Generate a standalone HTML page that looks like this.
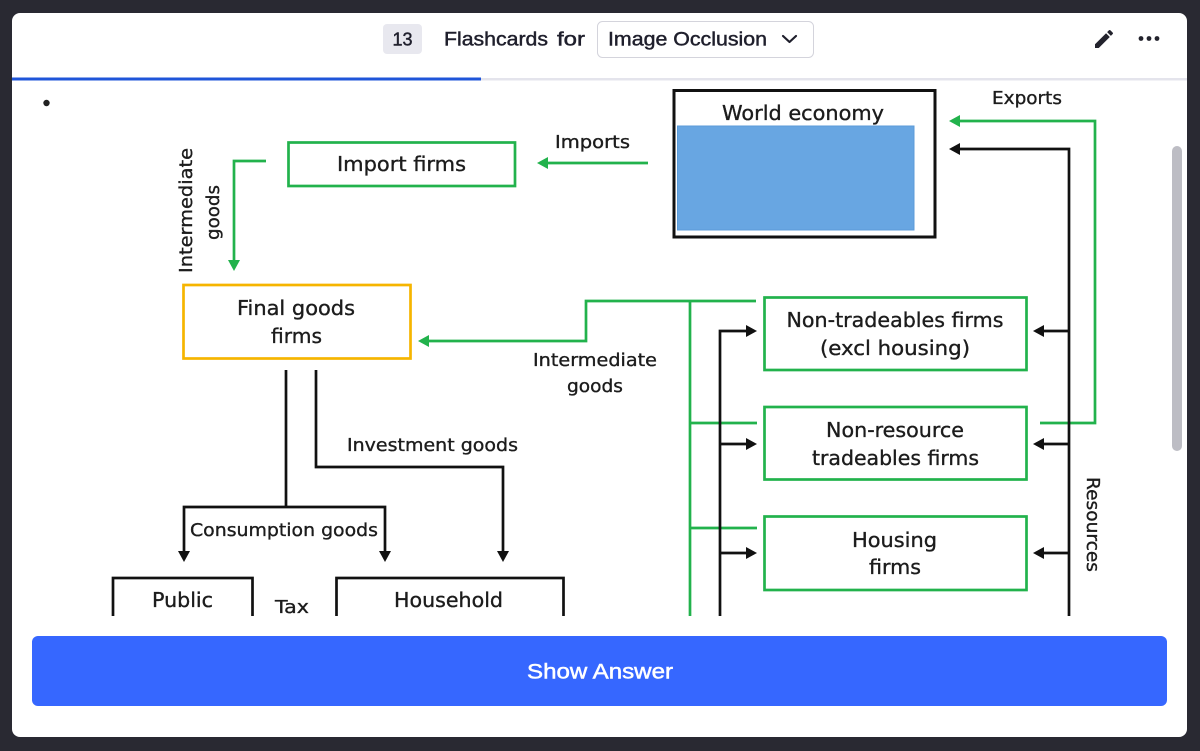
<!DOCTYPE html>
<html><head><meta charset="utf-8"><style>
html,body{margin:0;padding:0;background:#292932;width:1200px;height:751px;overflow:hidden}
svg{display:block}
</style></head><body>
<svg width="1200" height="751" viewBox="0 0 1200 751" xmlns="http://www.w3.org/2000/svg">
<defs>
<clipPath id="content"><rect x="12" y="81" width="1175" height="535"/></clipPath>
</defs>
<rect x="0" y="0" width="1200" height="751" fill="#292932"/>
<rect x="12" y="13" width="1175" height="724" rx="8" fill="#ffffff"/>

<!-- header -->
<rect x="383" y="24" width="39" height="30" rx="4" fill="#e8e8ef"/>
<g font-family="Liberation Sans, sans-serif" fill="#1f1f2c" stroke="#1f1f2c" stroke-width="0.45">
<text x="402.5" y="45.5" font-size="18" text-anchor="middle">13</text>
<text x="444" y="45.5" font-size="19" textLength="104" lengthAdjust="spacingAndGlyphs">Flashcards</text>
<text x="557" y="45.5" font-size="19" textLength="28" lengthAdjust="spacingAndGlyphs">for</text>
</g>
<rect x="597.5" y="21.5" width="216" height="36" rx="5" fill="#fff" stroke="#d4d4dc" stroke-width="1"/>
<text x="608" y="45.5" font-family="Liberation Sans, sans-serif" font-size="19" fill="#1f1f2c" stroke="#1f1f2c" stroke-width="0.45" textLength="159" lengthAdjust="spacingAndGlyphs">Image Occlusion</text>
<polyline points="783,36 789.5,42 796,36" fill="none" stroke="#1f1f2c" stroke-width="2.2" stroke-linecap="round" stroke-linejoin="round"/>
<g transform="translate(1092,27)" fill="#23232d"><path d="M3 17.25V21h3.75L17.81 9.94l-3.75-3.75L3 17.25zM20.71 7.04c.39-.39.39-1.02 0-1.41l-2.34-2.34c-.39-.39-1.02-.39-1.41 0l-1.83 1.83 3.75 3.75 1.83-1.83z"/></g>
<circle cx="1141" cy="38.5" r="2.4" fill="#23232d"/>
<circle cx="1149" cy="38.5" r="2.4" fill="#23232d"/>
<circle cx="1157" cy="38.5" r="2.4" fill="#23232d"/>

<!-- progress -->
<rect x="12" y="78" width="1175" height="2.5" fill="#e4e4ec"/>
<rect x="12" y="77.5" width="469" height="3" fill="#1f55d9"/>

<!-- bullet -->
<circle cx="46.5" cy="103" r="3.2" fill="#222"/>

<!-- diagram -->
<g clip-path="url(#content)" font-family="DejaVu Sans, Liberation Sans, sans-serif" fill="#1c1c1c">
  <!-- World economy -->
  <rect x="674" y="90.5" width="261" height="146.5" fill="#fff" stroke="#111" stroke-width="3"/>
  <rect x="677.5" y="126" width="236.5" height="104" fill="#68a6e2" stroke="#5b9bd8" stroke-width="1"/>

  <!-- green connectors -->
  <g fill="none" stroke="#22b24c" stroke-width="2.7">
    <polyline points="1040,423 1095,423 1095,121 958,121"/>
    <line x1="648" y1="163" x2="546" y2="163"/>
    <polyline points="266,161 234,161 234,262"/>
    <polyline points="756,301 586,301 586,341 427,341"/>
    <line x1="690" y1="301" x2="690" y2="620"/>
    <line x1="690" y1="423" x2="757" y2="423"/>
    <line x1="690" y1="528" x2="757" y2="528"/>
    <rect x="288.5" y="142.5" width="226.5" height="43.5"/>
    <rect x="764.5" y="297.5" width="262" height="72.5"/>
    <rect x="764.5" y="407" width="262" height="72.5"/>
    <rect x="764.5" y="516.5" width="262" height="73.5"/>
  </g>
  <g fill="#22b24c">
    <polygon points="949,121 960,115 960,127"/>
    <polygon points="537,163 548,157 548,169"/>
    <polygon points="234,271 228,260 240,260"/>
    <polygon points="418,341 429,335 429,347"/>
  </g>

  <!-- orange box -->
  <rect x="183.5" y="285" width="227" height="73.5" fill="none" stroke="#f6b500" stroke-width="2.7"/>

  <!-- black connectors -->
  <g fill="none" stroke="#111" stroke-width="2.7">
    <polyline points="1069,620 1069,149 958,149"/>
    <line x1="1069" y1="331" x2="1042" y2="331"/>
    <line x1="1069" y1="444" x2="1042" y2="444"/>
    <line x1="1069" y1="553" x2="1042" y2="553"/>
    <polyline points="720,620 720,331 748,331"/>
    <line x1="720" y1="444" x2="748" y2="444"/>
    <line x1="720" y1="553" x2="748" y2="553"/>
    <line x1="286" y1="370" x2="286" y2="507"/>
    <polyline points="184,553 184,507 385,507 385,553"/>
    <polyline points="316,370 316,467 503,467 503,553"/>
    <rect x="113" y="578" width="139.5" height="90"/>
    <rect x="336.5" y="578" width="227" height="90"/>
  </g>
  <g fill="#111">
    <polygon points="949,149 960,143 960,155"/>
    <polygon points="1033,331 1044,325 1044,337"/>
    <polygon points="1033,444 1044,438 1044,450"/>
    <polygon points="1033,553 1044,547 1044,559"/>
    <polygon points="757,331 746,325 746,337"/>
    <polygon points="757,444 746,438 746,450"/>
    <polygon points="757,553 746,547 746,559"/>
    <polygon points="184,562 178,551 190,551"/>
    <polygon points="385,562 379,551 391,551"/>
    <polygon points="503,562 497,551 509,551"/>
  </g>

  <!-- labels -->
  <g stroke="#1c1c1c" stroke-width="0.35">
  <text x="803" y="120" font-size="20" text-anchor="middle" textLength="162" lengthAdjust="spacingAndGlyphs">World economy</text>
  <text x="1027" y="104" font-size="18" text-anchor="middle" textLength="70" lengthAdjust="spacingAndGlyphs">Exports</text>
  <text x="592.5" y="148" font-size="18" text-anchor="middle" textLength="75" lengthAdjust="spacingAndGlyphs">Imports</text>
  <text x="401.5" y="171" font-size="20" text-anchor="middle" textLength="129" lengthAdjust="spacingAndGlyphs">Import firms</text>
  <text x="296" y="315" font-size="20" text-anchor="middle" textLength="118" lengthAdjust="spacingAndGlyphs">Final goods</text>
  <text x="296.5" y="343" font-size="20" text-anchor="middle" textLength="51" lengthAdjust="spacingAndGlyphs">firms</text>
  <text x="595" y="366" font-size="18" text-anchor="middle" textLength="124" lengthAdjust="spacingAndGlyphs">Intermediate</text>
  <text x="595" y="392" font-size="18" text-anchor="middle" textLength="56" lengthAdjust="spacingAndGlyphs">goods</text>
  <text x="895" y="327" font-size="20" text-anchor="middle" textLength="217" lengthAdjust="spacingAndGlyphs">Non-tradeables firms</text>
  <text x="895" y="355" font-size="20" text-anchor="middle" textLength="150" lengthAdjust="spacingAndGlyphs">(excl housing)</text>
  <text x="895" y="437" font-size="20" text-anchor="middle" textLength="138" lengthAdjust="spacingAndGlyphs">Non-resource</text>
  <text x="895.5" y="465" font-size="20" text-anchor="middle" textLength="167" lengthAdjust="spacingAndGlyphs">tradeables firms</text>
  <text x="894.5" y="547" font-size="20" text-anchor="middle" textLength="85" lengthAdjust="spacingAndGlyphs">Housing</text>
  <text x="895" y="574" font-size="20" text-anchor="middle" textLength="52" lengthAdjust="spacingAndGlyphs">firms</text>
  <text x="432.5" y="451" font-size="18" text-anchor="middle" textLength="171" lengthAdjust="spacingAndGlyphs">Investment goods</text>
  <text x="284" y="536" font-size="18" text-anchor="middle" textLength="188" lengthAdjust="spacingAndGlyphs">Consumption goods</text>
  <text x="182.5" y="607" font-size="20" text-anchor="middle" textLength="61" lengthAdjust="spacingAndGlyphs">Public</text>
  <text x="292" y="613" font-size="18" text-anchor="middle" textLength="34" lengthAdjust="spacingAndGlyphs">Tax</text>
  <text x="448.5" y="607" font-size="20" text-anchor="middle" textLength="109" lengthAdjust="spacingAndGlyphs">Household</text>
  <text transform="translate(192,210.5) rotate(-90)" font-size="18" text-anchor="middle" textLength="125" lengthAdjust="spacingAndGlyphs">Intermediate</text>
  <text transform="translate(219,212.5) rotate(-90)" font-size="18" text-anchor="middle" textLength="55" lengthAdjust="spacingAndGlyphs">goods</text>
  <text transform="translate(1087,524.5) rotate(90)" font-size="18" text-anchor="middle" textLength="95" lengthAdjust="spacingAndGlyphs">Resources</text>
  </g>
</g>

<!-- scrollbar -->
<rect x="1172" y="146" width="10" height="305" rx="5" fill="#bdbdc4"/>

<!-- button -->
<rect x="32" y="636" width="1135" height="70" rx="6" fill="#3667ff"/>
<text x="600" y="678.5" font-family="Liberation Sans, sans-serif" font-size="21" fill="#ffffff" stroke="#ffffff" stroke-width="0.5" text-anchor="middle" textLength="146" lengthAdjust="spacingAndGlyphs">Show Answer</text>
</svg>
</body></html>
